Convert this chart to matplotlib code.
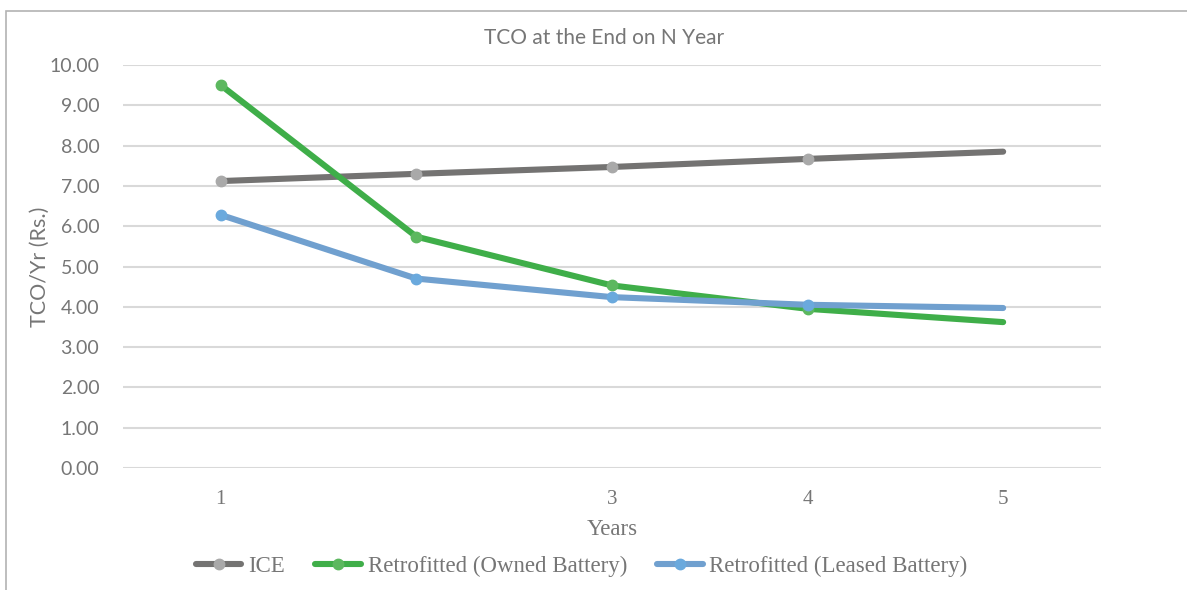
import matplotlib
matplotlib.use("Agg")
import matplotlib.pyplot as plt
from matplotlib.patches import Rectangle

# TCO per year for each option
years = [1, 2, 3, 4, 5]
year_labels = ["1", "", "3", "4", "5"]
ice = [7.12, 7.30, 7.47, 7.67, 7.85]
owned = [9.50, 5.74, 4.53, 3.95, 3.62]
leased = [6.28, 4.70, 4.24, 4.05, 3.97]
yticks = [0, 1, 2, 3, 4, 5, 6, 7, 8, 9, 10]

grey_txt = "#767676"
sans = ["Lato", "DejaVu Sans"]
serif = ["Liberation Serif", "DejaVu Serif"]

fig = plt.figure(figsize=(11.87, 5.90), dpi=100)
ax = fig.add_axes([0.1036, 0.2068, 0.8239, 0.6830])

# 外枠 (上と左だけ見える)
fig.patches.append(Rectangle((0.005, -0.05), 1.2, 1.031, transform=fig.transFigure,
                             fill=False, edgecolor="#b3b3b3", linewidth=1.2))

series = [
    ("ICE", ice, "#747372", "#a9a9a9"),
    ("Retrofitted (Owned Battery)", owned, "#3fae49", "#5cb85f"),
    ("Retrofitted (Leased Battery)", leased, "#70a0cf", "#6aa9dd"),
]
for name, vals, lc, mc in series:
    ax.plot(years, vals, color=lc, linewidth=4.4, solid_capstyle="round",
            marker="o", markersize=7.5, markerfacecolor=mc, markeredgecolor=mc,
            markevery=[0, 1, 2, 3], label=name, clip_on=False, zorder=3)

ax.set_xlim(0.5, 5.5)
ax.set_ylim(0, 10)
ax.set_yticks(yticks)
ax.set_yticklabels(["%.2f" % v for v in yticks], family=sans, fontsize=14,
                   color=grey_txt)
ax.set_xticks(years)
ax.set_xticklabels(year_labels, family=serif, fontsize=15, color=grey_txt)
ax.tick_params(length=0)
ax.tick_params(axis="y", pad=17)
ax.tick_params(axis="x", pad=16)
ax.grid(axis="y", color="#d9d9d9", linewidth=1.5)
ax.set_axisbelow(True)
for s in ax.spines.values():
    s.set_visible(False)

ax.set_title("TCO at the End on N Year", family=sans, fontsize=15, color=grey_txt,
             pad=15, x=0.492)
ax.set_ylabel("TCO/Yr (Rs.)", family=sans, fontsize=15.5, color=grey_txt, labelpad=0)
ax.set_xlabel("Years", family=serif, fontsize=16.5, color=grey_txt, labelpad=7)

leg = fig.legend(loc="center", bbox_to_anchor=(0.49, 1 - 566 / 590), ncol=3, frameon=False,
                 prop={"family": serif, "size": 16.5}, handlelength=2.0,
                 columnspacing=1.3, handletextpad=0.3, labelcolor=grey_txt)

fig.savefig("out.png", dpi=100)
